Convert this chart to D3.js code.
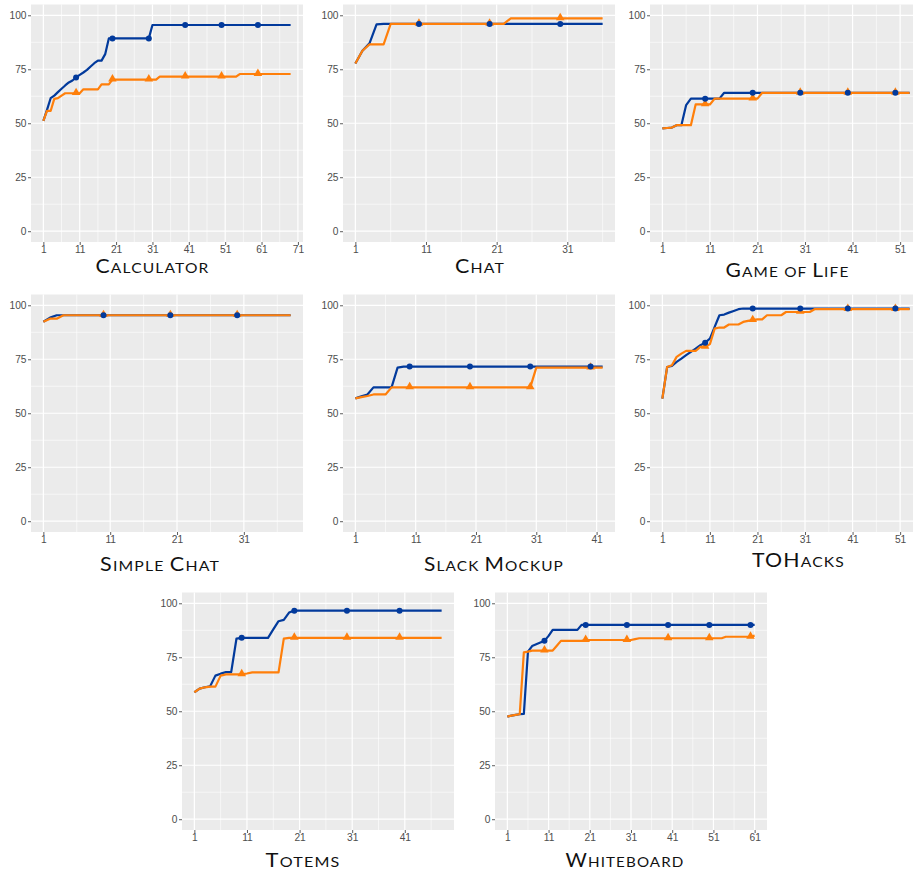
<!DOCTYPE html>
<html>
<head>
<meta charset="utf-8">
<script src="https://cdn.jsdelivr.net/npm/d3@7"></script>
<style>
  body { margin: 0; background: #fff; }
  svg text { font-family: "Liberation Sans", Arial, sans-serif; }
  .title { font-family: "Lato", "Open Sans", sans-serif; font-weight: 400; letter-spacing: 1px; fill: #111; }
</style>
</head>
<body>
<div id="chart"></div>
<script>
// coverage values per project, blue = circles, orange = triangles
const calculatorBlue = [51.1, 56.2, 61.6, 62.8, 64.4, 66, 67.5, 68.9, 69.8, 71.2, 72.4, 73.5, 74.7, 76.3, 77.8, 79, 79, 82, 89.3,
  89.3, 89.3, 89.3, 89.3, 89.3, 89.3, 89.3, 89.3, 89.3, 89.3, 89.3,
  95.5, 95.5, 95.5, 95.5, 95.5, 95.5, 95.5, 95.5, 95.5, 95.5, 95.5, 95.5, 95.5, 95.5, 95.5, 95.5, 95.5, 95.5, 95.5, 95.5,
  95.5, 95.5, 95.5, 95.5, 95.5, 95.5, 95.5, 95.5, 95.5, 95.5, 95.5, 95.5, 95.5, 95.5, 95.5, 95.5, 95.5, 95.5, 95.5];
const calculatorOrange = [51.1, 55.7, 55.7, 61.3, 61.6, 62.8, 63.9, 63.9, 63.9, 63.9, 63.9, 65.7, 65.7, 65.7, 65.7, 65.7, 68, 68, 68, 70.2,
  70.2, 70.2, 70.2, 70.2, 70.2, 70.2, 70.2, 70.2, 70.2, 70.2, 70.2, 70.2,
  71.6, 71.6, 71.6, 71.6, 71.6, 71.6, 71.6, 71.6, 71.6, 71.6, 71.6, 71.6, 71.6, 71.6, 71.6, 71.6, 71.6, 71.6, 71.6, 71.6, 71.6, 71.6,
  72.8, 72.8, 72.8, 72.8, 72.8, 72.8, 72.8, 72.8, 72.8, 72.8, 72.8, 72.8, 72.8, 72.8, 72.8];

const chatBlue = [77.7, 83.6, 87, 95.8, 96, 96, 96, 96, 96, 96, 96, 96, 96, 96, 96, 96, 96, 96,
  96, 96, 96, 96, 96, 96, 96, 96, 96, 96, 96, 96, 96, 96, 96, 96, 96, 96];
const chatOrange = [77.7, 83.6, 86.5, 86.5, 86.5, 96, 96, 96, 96, 96, 96, 96, 96, 96, 96, 96, 96, 96,
  96, 96, 96, 96, 98.6, 98.6, 98.6, 98.6, 98.6, 98.6, 98.6, 98.6, 98.6, 98.6, 98.6, 98.6, 98.6, 98.6];

const lifeBlue = [47.6, 47.8, 48, 49.1, 49.1, 58.4, 61.4, 61.4, 61.4, 61.4, 61.4, 61.4, 61.4,
  64.1, 64.1, 64.1, 64.1, 64.1, 64.1, 64.1, 64.1, 64.1, 64.1, 64.1, 64.1, 64.1, 64.1, 64.1, 64.1, 64.1, 64.1, 64.1, 64.1,
  64.1, 64.1, 64.1, 64.1, 64.1, 64.1, 64.1, 64.1, 64.1, 64.1, 64.1, 64.1, 64.1, 64.1, 64.1, 64.1, 64.1, 64.1, 64.1, 64.1];
const lifeOrange = [47.6, 47.8, 48, 49.1, 49.1, 49.1, 49.1, 58.7, 58.7, 58.7, 58.7,
  61.4, 61.4, 61.4, 61.4, 61.4, 61.4, 61.4, 61.4, 61.4, 61.4,
  64.1, 64.1, 64.1, 64.1, 64.1, 64.1, 64.1, 64.1, 64.1, 64.1, 64.1, 64.1, 64.1, 64.1, 64.1, 64.1,
  64.1, 64.1, 64.1, 64.1, 64.1, 64.1, 64.1, 64.1, 64.1, 64.1, 64.1, 64.1, 64.1, 64.1, 64.1, 64.1];

const simpleBlue = [92.4, 94.3, 95.4, 95.4, 95.4, 95.4, 95.4, 95.4, 95.4, 95.4, 95.4, 95.4, 95.4, 95.4, 95.4, 95.4, 95.4, 95.4, 95.4,
  95.4, 95.4, 95.4, 95.4, 95.4, 95.4, 95.4, 95.4, 95.4, 95.4, 95.4, 95.4, 95.4, 95.4, 95.4, 95.4, 95.4, 95.4, 95.4];
const simpleOrange = [92.4, 93.8, 93.8, 95.4, 95.4, 95.4, 95.4, 95.4, 95.4, 95.4, 95.4, 95.4, 95.4, 95.4, 95.4, 95.4, 95.4, 95.4, 95.4,
  95.4, 95.4, 95.4, 95.4, 95.4, 95.4, 95.4, 95.4, 95.4, 95.4, 95.4, 95.4, 95.4, 95.4, 95.4, 95.4, 95.4, 95.4, 95.4];

const slackBlue = [56.9, 57.8, 58.7, 62, 62, 62, 62, 71.1, 71.6, 71.6, 71.6, 71.6, 71.6, 71.6, 71.6, 71.6, 71.6, 71.6, 71.6, 71.6, 71.6,
  71.6, 71.6, 71.6, 71.6, 71.6, 71.6, 71.6, 71.6, 71.6, 71.6, 71.6, 71.6, 71.6, 71.6, 71.6, 71.6, 71.6, 71.6, 71.6, 71.6, 71.6];
const slackOrange = [56.9, 57.5, 58, 58.7, 58.7, 58.7, 62, 62, 62, 62, 62, 62, 62, 62, 62, 62, 62, 62, 62, 62, 62,
  62, 62, 62, 62, 62, 62, 62, 62, 62, 71.1, 71.1, 71.1, 71.1, 71.1, 71.1, 71.1, 71.1, 71.1, 71.1, 71.1, 71.1];

const toBlue = [56.8, 71.4, 71.9, 73.8, 75.3, 76.9, 78.4, 79.9, 81.5, 82.7, 84.6, 90, 95.4, 95.7, 96.6, 97.4, 98.2,
  98.5, 98.5, 98.5, 98.5, 98.5, 98.5, 98.5, 98.5, 98.5, 98.5, 98.5, 98.5, 98.5, 98.5, 98.5, 98.5, 98.5, 98.5, 98.5, 98.5,
  98.5, 98.5, 98.5, 98.5, 98.5, 98.5, 98.5, 98.5, 98.5, 98.5, 98.5, 98.5, 98.5, 98.5, 98.5, 98.5];
const toOrange = [56.8, 71.4, 72.2, 76.1, 77.6, 78.9, 78.9, 78.9, 80.7, 80.7, 82, 89.2, 89.7, 89.7, 91.1, 91.1, 91.1, 92.3, 92.8, 93.1, 93.5, 93.5,
  95.4, 95.4, 95.4, 95.4, 96.9, 96.9, 96.9, 96.9, 96.9, 96.9,
  98.2, 98.2, 98.2, 98.2, 98.2, 98.2, 98.2, 98.2, 98.2, 98.2, 98.2, 98.2, 98.2, 98.2, 98.2, 98.2, 98.2, 98.2, 98.2, 98.2, 98.2];

const totemsBlue = [58.8, 60.5, 61.1, 61.6, 66.5, 67.4, 68.1, 68.1, 83.6, 84, 84, 84, 84, 84, 84, 87.9, 91.7, 92.3, 95.7,
  96.6, 96.6, 96.6, 96.6, 96.6, 96.6, 96.6, 96.6, 96.6, 96.6, 96.6, 96.6, 96.6, 96.6, 96.6, 96.6, 96.6, 96.6, 96.6, 96.6,
  96.6, 96.6, 96.6, 96.6, 96.6, 96.6, 96.6, 96.6, 96.6];
const totemsOrange = [58.8, 60.5, 61.1, 61.4, 61.4, 66.5, 67.1, 67.1, 67.1, 67.1, 67.5, 68, 68, 68, 68, 68, 68, 83.6,
  84, 84, 84, 84, 84, 84, 84, 84, 84, 84, 84, 84, 84, 84, 84, 84, 84, 84, 84, 84, 84, 84, 84, 84, 84, 84, 84, 84, 84, 84];

const boardBlue = [47.5, 48, 48.3, 48.6, 48.8, 77.6, 80.2, 81, 81.8, 82.6, 84.9, 87.7, 87.7, 87.7, 87.7, 87.7, 87.7, 87.7,
  90, 90, 90, 90, 90, 90, 90, 90, 90, 90, 90, 90, 90, 90, 90, 90, 90, 90, 90, 90, 90, 90, 90, 90,
  90, 90, 90, 90, 90, 90, 90, 90, 90, 90, 90, 90, 90, 90, 90, 90, 90, 90, 90];
const boardOrange = [47.5, 48, 48.3, 48.6, 77.3, 77.6, 78.1, 78.1, 78.1, 78.1, 78.1, 78.1, 80.3,
  82.6, 82.6, 82.6, 82.6, 82.6, 82.6, 83, 83, 83, 83, 83, 83, 83, 83, 83, 83, 83, 83, 83.4,
  83.8, 83.8, 83.8, 83.8, 83.8, 83.8, 83.8, 83.8, 83.8, 83.8, 83.8, 83.8, 83.8, 83.8, 83.8, 83.8, 83.8, 83.8, 83.8, 83.8, 83.8,
  84.5, 84.5, 84.5, 84.5, 84.5, 84.5, 84.5, 85];

const yTicks = [0, 25, 50, 75, 100];

// panel boxes (plot area) and caption placement
const panels = [
  { name: "Calculator",   blue: calculatorBlue, orange: calculatorOrange, left: 31,  top: 4.5,   capX: 152.5, capY: 272.7, capW: 114 },
  { name: "Chat",         blue: chatBlue,       orange: chatOrange,       left: 343, top: 4.5,   capX: 480,   capY: 272.7, capW: 50 },
  { name: "Game of Life", blue: lifeBlue,       orange: lifeOrange,       left: 650, top: 4.5,   capX: 787.5, capY: 277.3, capW: 124 },
  { name: "Simple Chat",  blue: simpleBlue,     orange: simpleOrange,     left: 31,  top: 294.5, capX: 160,   capY: 571,   capW: 120 },
  { name: "Slack Mockup", blue: slackBlue,      orange: slackOrange,      left: 343, top: 294.5, capX: 494,   capY: 571,   capW: 140 },
  { name: "TOHacks",      blue: toBlue,         orange: toOrange,         left: 650, top: 294.5, capX: 798.5, capY: 566.7, capW: 93 },
  { name: "Totems",       blue: totemsBlue,     orange: totemsOrange,     left: 182, top: 592.5, capX: 303,   capY: 867.3, capW: 75 },
  { name: "Whiteboard",   blue: boardBlue,      orange: boardOrange,      left: 495, top: 592.5, capX: 625,   capY: 867.3, capW: 119 }
];

const width = 913, height = 874;
const pw = 272, ph = 237.5;
const blue = "#023a9c", orange = "#ff7f0a";
const capSize = 18.5, smallSize = 13.6;

const svg = d3.select("#chart").append("svg")
  .attr("width", width)
  .attr("height", height);

// split a caption into runs of capitals and (upper-cased) small capitals
function capRuns(s) {
  const runs = [];
  for (const ch of s) {
    const big = ch !== ch.toLowerCase();
    const last = runs[runs.length - 1];
    if (last && last.big === big) last.t += ch.toUpperCase();
    else runs.push({ big, t: ch.toUpperCase() });
  }
  return runs;
}

panels.forEach(p => {
  const n = p.blue.length;
  const ex = (n - 1) * 0.05;
  const x = d3.scaleLinear().domain([1 - ex, n + ex]).range([0, pw]);
  const y = d3.scaleLinear().domain([-5, 105]).range([ph, 0]);

  const g = svg.append("g").attr("transform", `translate(${p.left},${p.top})`);

  g.append("rect").attr("width", pw).attr("height", ph).attr("fill", "#ebebeb");

  const xMajor = d3.range(1, n + ex, 10);
  const xMinor = d3.range(6, n + ex, 10);
  const yMinor = [12.5, 37.5, 62.5, 87.5];

  g.selectAll(".ymin").data(yMinor).enter().append("line")
    .attr("x1", 0).attr("x2", pw).attr("y1", d => y(d)).attr("y2", d => y(d))
    .attr("stroke", "#fff").attr("stroke-width", 0.6);
  g.selectAll(".xmin").data(xMinor).enter().append("line")
    .attr("y1", 0).attr("y2", ph).attr("x1", d => x(d)).attr("x2", d => x(d))
    .attr("stroke", "#fff").attr("stroke-width", 0.6);
  g.selectAll(".ymaj").data(yTicks).enter().append("line")
    .attr("x1", 0).attr("x2", pw).attr("y1", d => y(d)).attr("y2", d => y(d))
    .attr("stroke", "#fff").attr("stroke-width", 1.2);
  g.selectAll(".xmaj").data(xMajor).enter().append("line")
    .attr("y1", 0).attr("y2", ph).attr("x1", d => x(d)).attr("x2", d => x(d))
    .attr("stroke", "#fff").attr("stroke-width", 1.2);

  // axes
  const yAxis = g.append("g").call(d3.axisLeft(y).tickValues(yTicks).tickSize(3).tickPadding(1.5));
  const xAxis = g.append("g").attr("transform", `translate(0,${ph})`)
    .call(d3.axisBottom(x).tickValues(xMajor).tickSize(3).tickPadding(0.3).tickFormat(d3.format("d")));
  [xAxis, yAxis].forEach(a => {
    a.select(".domain").remove();
    a.selectAll(".tick line").attr("stroke", "#333").attr("stroke-width", 0.8);
    a.selectAll(".tick text").attr("fill", "#4d4d4d").style("font-size", "10.2px");
  });

  const line = d3.line().x((d, i) => x(i + 1)).y(d => y(d));

  g.append("path").datum(p.blue).attr("d", line)
    .attr("fill", "none").attr("stroke", blue).attr("stroke-width", 2.2).attr("stroke-linejoin", "round");
  g.append("path").datum(p.orange).attr("d", line)
    .attr("fill", "none").attr("stroke", orange).attr("stroke-width", 2.2).attr("stroke-linejoin", "round");

  const marks = d3.range(10, n + 1, 10);
  g.selectAll(".tri").data(marks).enter().append("path")
    .attr("d", d3.symbol().type(d3.symbolTriangle).size(32))
    .attr("transform", d => `translate(${x(d)},${y(p.orange[d - 1]) - 0.6})`)
    .attr("fill", orange);
  g.selectAll(".dot").data(marks).enter().append("circle")
    .attr("cx", d => x(d)).attr("cy", d => y(p.blue[d - 1])).attr("r", 3)
    .attr("fill", blue);

  // caption in small capitals, stretched horizontally to the printed width
  const cap = svg.append("text").attr("class", "title")
    .attr("text-anchor", "middle");
  capRuns(p.name).forEach(r => {
    cap.append("tspan").style("font-size", (r.big ? capSize : smallSize) + "px").text(r.t);
  });
  const w = cap.node().getComputedTextLength();
  const sx = p.capW / w;
  cap.attr("transform", `translate(${p.capX},${p.capY}) scale(${sx},1)`);
});
</script>
</body>
</html>
